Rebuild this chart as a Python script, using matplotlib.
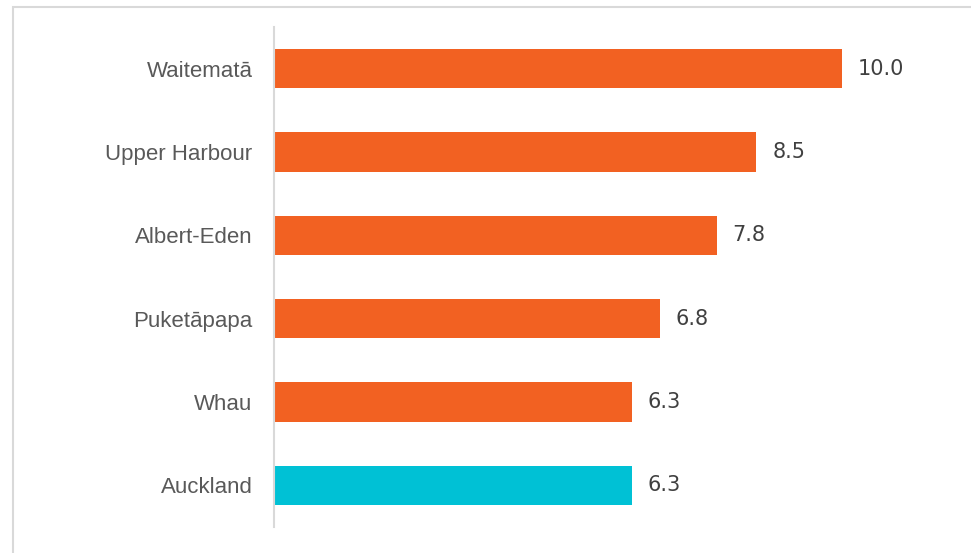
import matplotlib.pyplot as plt
from matplotlib.patches import Rectangle

# local board values, top to bottom
boards = ["Waitematā", "Upper Harbour", "Albert-Eden", "Puketāpapa", "Whau", "Auckland"]
values = [10.0, 8.5, 7.8, 6.8, 6.3, 6.3]
colors = ["#F26122"] * 5 + ["#00C1D5"]

TEXT_GREY = "#595959"

plt.rcParams['font.family'] = ['Liberation Sans', 'DejaVu Sans']

fig = plt.figure(figsize=(9.71, 5.53), dpi=100)
ax = fig.add_axes([274/971, 1 - 527/553, (955 - 274)/971, 500/553])

ypos = list(range(len(boards)))[::-1]
bars = ax.barh(ypos, values, height=0.47, color=colors)

# value labels - wider digits, DejaVu is closer here
for y, v in zip(ypos, values):
    ax.annotate(f"{v:.1f}", (v, y), xytext=(11.5, 0), textcoords="offset points",
                va="center", ha="left", fontsize=15, color="#404040",
                family=['DejaVu Sans'])

ax.set_yticks(ypos)
ax.set_yticklabels(boards, fontsize=16, color=TEXT_GREY)
ax.tick_params(axis="y", length=0, pad=15.5)
ax.set_xticks([])
ax.set_xlim(0, 12)
ax.set_ylim(-0.5, 5.5)

for s in ["top", "right", "bottom"]:
    ax.spines[s].set_visible(False)
ax.spines["left"].set_color("#d9d9d9")
ax.spines["left"].set_linewidth(1.5)

# light border round the chart area
fig.patches.append(Rectangle((13/971, -0.01), 1.0, 1 - 7/553 + 0.01, transform=fig.transFigure,
                             fill=False, edgecolor="#d9d9d9", linewidth=1.5))

fig.savefig("out.png", dpi=100)
